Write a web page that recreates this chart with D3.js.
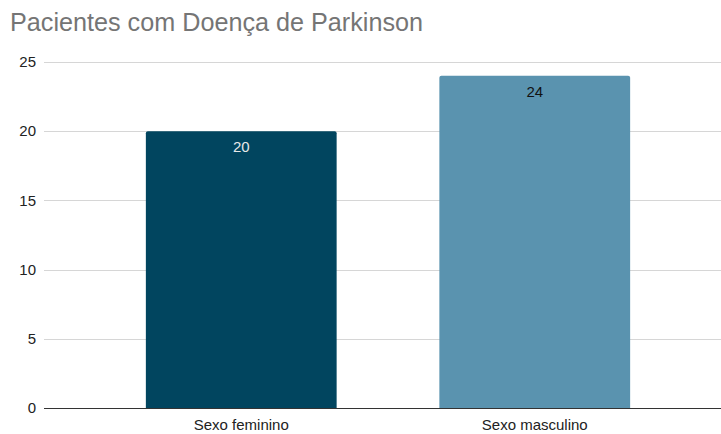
<!DOCTYPE html>
<html><head><meta charset="utf-8">
<script src="https://cdn.jsdelivr.net/npm/d3@7"></script>
<style>body{margin:0;background:#fff;}svg{display:block;font-family:Arial,"Liberation Sans",sans-serif;}</style>
</head><body>
<svg id="c" width="721" height="434"></svg>
<script>
const categories = ["Sexo feminino", "Sexo masculino"];
const values = [20, 24];
const barColors = ["#01455f", "#5a93af"];
const labelColors = ["#e8e8e8", "#111111"];
const yTicks = [0, 5, 10, 15, 20, 25];
const title = "Pacientes com Doença de Parkinson";

const svg = d3.select("#c");
const x = d3.scaleBand().domain(categories).range([94.5, 681.5]).paddingInner(0.35).paddingOuter(0.175);
const y = d3.scaleLinear().domain([0, 25]).range([408, 62]);
const gridL = 44, gridR = 721;

svg.append("text").attr("x", 10).attr("y", 31).attr("fill", "#757575")
  .attr("font-size", 25.2).text(title);

svg.append("g").selectAll("line").data(yTicks.filter(d => d > 0)).join("line")
  .attr("x1", gridL).attr("x2", gridR).attr("y1", d => Math.round(y(d)) + 0.5).attr("y2", d => Math.round(y(d)) + 0.5)
  .attr("stroke", "#d6d6d6").attr("stroke-width", 1);

svg.append("g").selectAll("text").data(yTicks).join("text")
  .attr("x", 36).attr("y", d => y(d)).attr("dy", "0.35em").attr("text-anchor", "end")
  .attr("font-size", 15).attr("fill", "#222").text(d => d);

const r = 2;
svg.append("g").selectAll("path").data(values).join("path")
  .attr("d", (d, i) => {
    const x0 = x(categories[i]), w = x.bandwidth(), y0 = y(d), y1 = y(0);
    return `M${x0},${y1}V${y0 + r}Q${x0},${y0} ${x0 + r},${y0}H${x0 + w - r}Q${x0 + w},${y0} ${x0 + w},${y0 + r}V${y1}Z`;
  })
  .attr("fill", (d, i) => barColors[i]);

svg.append("g").selectAll("text").data(values).join("text")
  .attr("x", (d, i) => x(categories[i]) + x.bandwidth() / 2).attr("y", d => y(d) + 21)
  .attr("text-anchor", "middle").attr("font-size", 15).attr("fill", (d, i) => labelColors[i]).text(d => d);

svg.append("line").attr("x1", gridL).attr("x2", gridR).attr("y1", y(0) + 0.5).attr("y2", y(0) + 0.5)
  .attr("stroke", "#333").attr("stroke-width", 1);

svg.append("g").selectAll("text").data(categories).join("text")
  .attr("x", d => x(d) + x.bandwidth() / 2).attr("y", 430).attr("text-anchor", "middle")
  .attr("font-size", 15).attr("fill", "#222").text(d => d);
</script>
</body></html>
